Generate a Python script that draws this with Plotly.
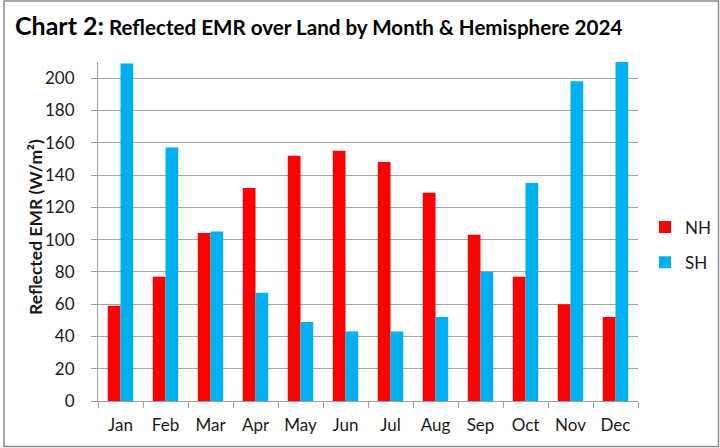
import plotly.graph_objects as go

months = ["Jan", "Feb", "Mar", "Apr", "May", "Jun", "Jul", "Aug", "Sep", "Oct", "Nov", "Dec"]
nh = [59, 77, 104, 132, 152, 155, 148, 129, 103, 77, 60, 52]
sh = [209, 157, 105, 67, 49, 43, 43, 52, 80, 135, 198, 210]
y_ticks = [0, 20, 40, 60, 80, 100, 120, 140, 160, 180, 200]
y_title = "<b>Reflected EMR (W/m²)</b>"

FONT = "Lato"
W, H = 720, 448
L, R, T, B = 98, 82, 62, 47
pw, ph = W - L - R, H - T - B

fig = go.Figure()
fig.add_trace(go.Bar(name="NH", x=months, y=nh, marker_color="#FF0000",
                     marker_line_width=0, legendgroup="a"))
fig.add_trace(go.Bar(name="SH", x=months, y=sh, marker_color="#00B0F0",
                     marker_line_width=0, legendgroup="b"))

def px_x(v):
    return (v - L) / pw

def px_y(v):
    return (H - B - v) / ph

fig.update_layout(
    width=W, height=H,
    margin=dict(l=L, r=R, t=T, b=B, autoexpand=False),
    paper_bgcolor="white", plot_bgcolor="white",
    barmode="group", bargap=0.435, bargroupgap=0,
    font=dict(family=FONT, size=17, color="#1a1a1a"),
    title=dict(
        text="<b><span style='font-size:25px'>Chart 2:</span> Reflected EMR over Land by Month &amp; Hemisphere 2024</b>",
        x=15 / W, xanchor="left", xref="container",
        y=1 - 28 / H, yanchor="middle", yref="container",
        font=dict(family=FONT, size=20.6, color="black"),
    ),
    legend=dict(
        x=645 / W, xanchor="left", xref="container",
        y=1 - 245 / H, yanchor="middle", yref="container",
        traceorder="grouped", tracegroupgap=10,
        font=dict(family=FONT, size=17, color="#1a1a1a"),
        bgcolor="rgba(0,0,0,0)",
    ),
    xaxis=dict(
        showline=True, linecolor="#a0a0a0", linewidth=1,
        ticks="outside", tickson="boundaries", ticklen=6, tickcolor="#a0a0a0",
        tickfont=dict(size=17), showgrid=False, ticklabelstandoff=9,
    ),
    yaxis=dict(
        range=[0, 210], tickvals=y_ticks,
        showline=True, linecolor="#a0a0a0", linewidth=1,
        ticks="outside", ticklen=6, tickcolor="#a0a0a0",
        showgrid=True, gridcolor="#a6a6a6", gridwidth=1,
        tickfont=dict(size=17), ticklabelstandoff=13,
    ),
    annotations=[dict(
        text=y_title, textangle=-90, showarrow=False,
        xref="paper", yref="paper", x=px_x(35), y=px_y(227),
        xanchor="center", yanchor="middle",
        font=dict(family=FONT, size=17.5, color="#1a1a1a"),
    )],
    shapes=[dict(
        type="rect", xref="paper", yref="paper",
        x0=px_x(4), x1=px_x(718.5), y0=px_y(446.5), y1=px_y(1),
        line=dict(color="#8c8c8c", width=1.5), fillcolor="rgba(0,0,0,0)",
        layer="below",
    )],
)

fig.write_html("out.html", config={"displayModeBar": False},
               post_script="document.body.style.margin='0';document.body.style.padding='0';")
